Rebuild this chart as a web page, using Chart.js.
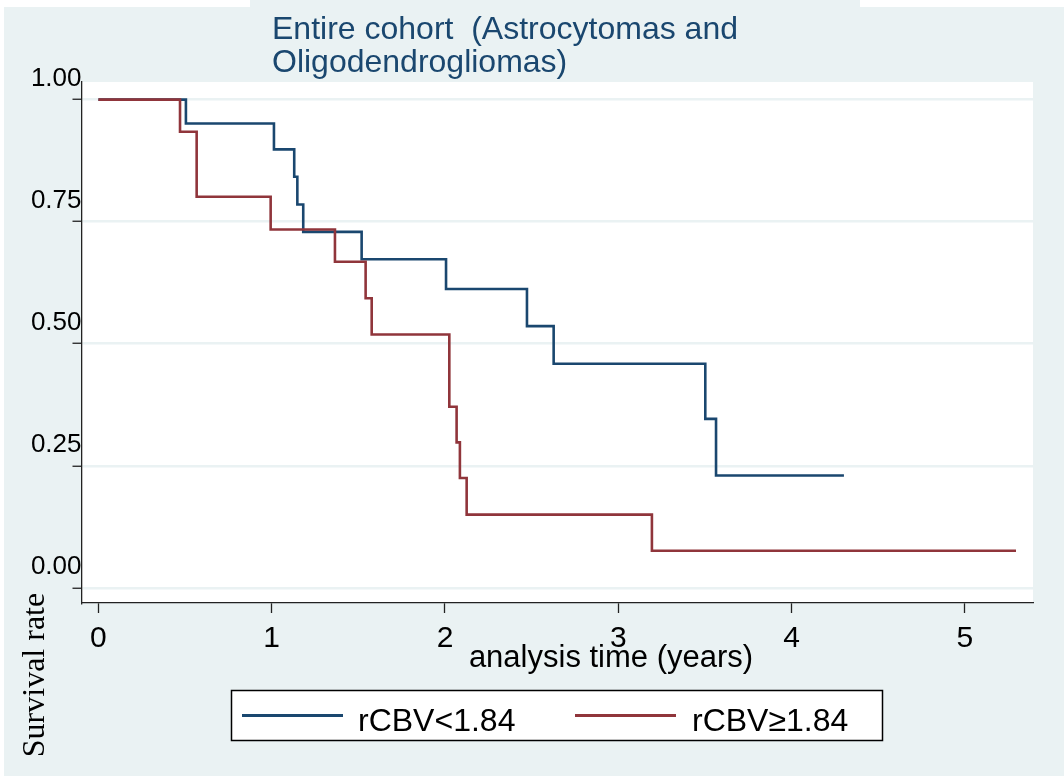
<!DOCTYPE html>
<html>
<head>
<meta charset="utf-8">
<script src="https://cdn.jsdelivr.net/npm/chart.js@4.4.0/dist/chart.umd.min.js"></script>
<style>
  body   { margin: 0; background: #eaf2f3; }
  canvas { display: block; }
</style>
</head>
<body>
<canvas id="chartCanvasId" width="1064" height="776"></canvas>
<script>
"use strict";

// chart text
const titleLines  = ["Entire cohort  (Astrocytomas and", "Oligodendrogliomas)"]
const xTitle      = "analysis time (years)"
const yTitle      = "Survival rate"
const groupNames  = ["rCBV<1.84", "rCBV\u22651.84"]

// Kaplan-Meier steps: time in years, survival after the step
const lowTimes    = [0, 0.505, 1.013, 1.130, 1.148, 1.182, 1.519, 2.006, 2.473, 2.627, 3.502, 3.564, 4.302]
const lowSurv     = [1, 0.951, 0.898, 0.842, 0.785, 0.729, 0.673, 0.612, 0.536, 0.459, 0.346, 0.230, 0.230]
const highTimes   = [0, 0.471, 0.567, 0.994, 1.365, 1.542, 1.577, 2.025, 2.067, 2.086, 2.125, 3.194, 5.295]
const highSurv    = [1, 0.934, 0.801, 0.734, 0.668, 0.593, 0.519, 0.371, 0.298, 0.225, 0.150, 0.076, 0.076]

// axis ticks
const xTicks      = [0, 1, 2, 3, 4, 5]
const yTicks      = [0, 0.25, 0.5, 0.75, 1]
const yTickLabels = ["0.00", "0.25", "0.50", "0.75", "1.00"]

const navy    = "#1a476f"
const maroon  = "#90353b"
const bgColor = "#eaf2f3"
const sans    = "'Liberation Sans', Arial, sans-serif"
const serif   = "'Liberation Serif', 'Times New Roman', serif"

let chartCanvas  = document.getElementById('chartCanvasId')
let chartContext = chartCanvas.getContext('2d')
let myChart      = undefined

function toPoints(times, surv) {
    let pts = []
    for (let i = 0; i < times.length; i++) {
        pts.push({ x: times[i], y: surv[i] })
    }
    return pts
}

// page background, odd white strips of the exported image, white plot region
const backgroundPlugin = {
    id: 'background',
    beforeDraw(chart) {
        const ctx = chart.ctx
        const a = chart.chartArea
        ctx.save()
        ctx.fillStyle = bgColor
        ctx.fillRect(0, 0, chart.width, chart.height)
        ctx.fillStyle = "white"
        ctx.fillRect(0, 0, 250, 7)
        ctx.fillRect(860, 0, 204, 7)
        ctx.fillRect(0, 0, 4, chart.height)
        ctx.fillRect(a.left, a.top, a.right - a.left, a.bottom - a.top)
        ctx.restore()
    }
}

// title, axis titles and boxed legend
const textPlugin = {
    id: 'texts',
    afterDraw(chart) {
        const ctx = chart.ctx
        ctx.save()

        ctx.fillStyle = navy
        ctx.font = "32px " + sans
        ctx.textAlign = "left"
        ctx.textBaseline = "alphabetic"
        ctx.fillText(titleLines[0], 272, 39)
        ctx.fillText(titleLines[1], 272, 72)

        ctx.fillStyle = "black"
        ctx.font = "31px " + sans
        ctx.textAlign = "center"
        ctx.fillText(xTitle, 611, 667)

        ctx.save()
        ctx.translate(44, 675)
        ctx.rotate(-Math.PI / 2)
        ctx.font = "32px " + serif
        ctx.fillText(yTitle, 0, 0)
        ctx.restore()

        // legend
        ctx.fillStyle = "white"
        ctx.fillRect(231.5, 690.5, 651, 50)
        ctx.strokeStyle = "black"
        ctx.lineWidth = 1.5
        ctx.strokeRect(231.5, 690.5, 651, 50)

        const sampleX = [242, 575]
        const textX   = [358, 692]
        const ds = chart.data.datasets
        for (let i = 0; i < ds.length; i++) {
            ctx.strokeStyle = ds[i].borderColor
            ctx.lineWidth = 3
            ctx.beginPath()
            ctx.moveTo(sampleX[i], 715.5)
            ctx.lineTo(sampleX[i] + 101, 715.5)
            ctx.stroke()
            ctx.fillStyle = "black"
            ctx.font = "32px " + sans
            ctx.textAlign = "left"
            ctx.fillText(ds[i].label, textX[i], 731)
        }
        ctx.restore()
    }
}

function createChart() {
    myChart = new Chart(chartContext, {
        type: 'line',
        data: {
            datasets: [{
                label: groupNames[0],
                data: toPoints(lowTimes, lowSurv),
                borderColor: navy,
                borderWidth: 2.6,
                stepped: 'before',
                pointRadius: 0,
                fill: false,
                order: 1
            }, {
                label: groupNames[1],
                data: toPoints(highTimes, highSurv),
                borderColor: maroon,
                borderWidth: 2.6,
                stepped: 'before',
                pointRadius: 0,
                fill: false,
                order: 0
            }]
        },
        options: {
            responsive: false,
            animation: false,
            devicePixelRatio: 1,
            layout: { padding: { left: 0, right: 31, top: 82, bottom: 0 } },
            plugins: {
                legend:  { display: false },
                title:   { display: false },
                tooltip: { enabled: false }
            },
            scales: {
                x: {
                    type: 'linear',
                    min: -0.0975,
                    max: 5.393,
                    afterBuildTicks: s => { s.ticks = xTicks.map(v => ({ value: v })) },
                    afterFit: s => { s.height = 173 },
                    border: { display: true, color: "#222", width: 1.3 },
                    grid: {
                        display: true,
                        drawOnChartArea: false,
                        tickLength: 10,
                        tickColor: "#222",
                        tickWidth: 1.3
                    },
                    ticks: {
                        color: "black",
                        font: { family: sans, size: 30 },
                        padding: 8,
                        maxRotation: 0,
                        callback: v => String(v)
                    }
                },
                y: {
                    type: 'linear',
                    min: -0.031,
                    max: 1.036,
                    afterBuildTicks: s => { s.ticks = yTicks.map(v => ({ value: v })) },
                    afterFit: s => { s.width = 81.5 },
                    border: { display: true, color: "#222", width: 1.3 },
                    grid: {
                        color: bgColor,
                        lineWidth: 2.5,
                        tickLength: 9,
                        tickColor: "#222",
                        tickWidth: 1.3
                    },
                    ticks: {
                        color: "black",
                        font: { family: sans, size: 26 },
                        padding: -9,
                        labelOffset: -21,
                        callback: (v, i) => yTickLabels[i]
                    }
                }
            }
        },
        plugins: [backgroundPlugin, textPlugin]
    })
}

createChart()
</script>
</body>
</html>
